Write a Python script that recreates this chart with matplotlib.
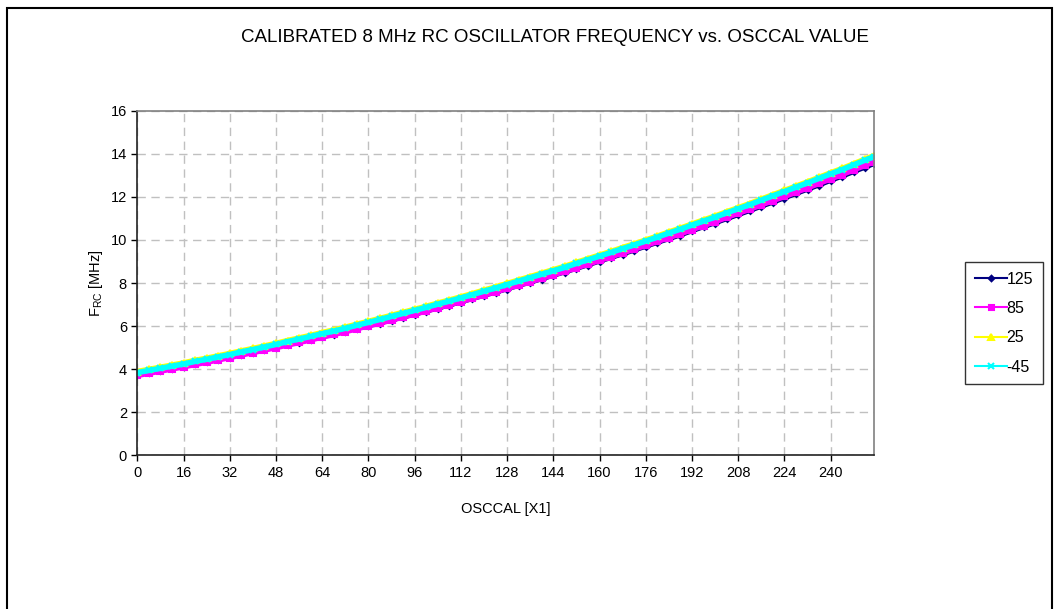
import numpy as np
import matplotlib.pyplot as plt
from matplotlib.patches import Rectangle

plt.rcParams['font.family'] = ['Liberation Sans', 'DejaVu Sans']
plt.rcParams['mathtext.fontset'] = 'custom'
plt.rcParams['mathtext.rm'] = 'Liberation Sans'

# OSCCAL values (read every 4 steps)
osccal = [0, 4, 8, 12, 16, 20, 24, 28, 32, 36, 40, 44, 48, 52, 56, 60,
          64, 68, 72, 76, 80, 84, 88, 92, 96, 100, 104, 108, 112, 116, 120, 124,
          128, 132, 136, 140, 144, 148, 152, 156, 160, 164, 168, 172, 176, 180, 184, 188,
          192, 196, 200, 204, 208, 212, 216, 220, 224, 228, 232, 236, 240, 244, 248, 252, 255]

# frequency in MHz for each temperature
f_125 = [3.77, 3.87, 3.96, 4.06, 4.16, 4.27, 4.37, 4.47, 4.58, 4.70, 4.81, 4.92, 5.04, 5.16, 5.27, 5.39,
         5.52, 5.64, 5.77, 5.90, 6.03, 6.16, 6.30, 6.43, 6.57, 6.71, 6.85, 6.99, 7.14, 7.29, 7.44, 7.59,
         7.74, 7.90, 8.05, 8.21, 8.37, 8.53, 8.69, 8.86, 9.03, 9.20, 9.37, 9.54, 9.72, 9.90, 10.07, 10.25,
         10.44, 10.63, 10.81, 11.00, 11.19, 11.38, 11.58, 11.77, 11.97, 12.17, 12.37, 12.57, 12.78, 12.98, 13.19, 13.40, 13.56]
f_85 = [3.71, 3.81, 3.91, 4.01, 4.11, 4.22, 4.32, 4.43, 4.54, 4.66, 4.77, 4.89, 5.00, 5.12, 5.24, 5.36,
        5.49, 5.61, 5.74, 5.88, 6.01, 6.14, 6.28, 6.42, 6.56, 6.70, 6.85, 6.99, 7.14, 7.29, 7.44, 7.59,
        7.75, 7.90, 8.06, 8.22, 8.38, 8.54, 8.71, 8.88, 9.05, 9.22, 9.40, 9.57, 9.75, 9.93, 10.11, 10.29,
        10.48, 10.67, 10.85, 11.05, 11.24, 11.43, 11.63, 11.83, 12.02, 12.22, 12.42, 12.63, 12.84, 13.04, 13.26, 13.47, 13.64]
f_25 = [3.89, 3.99, 4.09, 4.19, 4.29, 4.41, 4.51, 4.62, 4.73, 4.85, 4.96, 5.08, 5.20, 5.33, 5.45, 5.57,
        5.70, 5.82, 5.95, 6.09, 6.22, 6.36, 6.50, 6.64, 6.78, 6.92, 7.07, 7.21, 7.36, 7.51, 7.67, 7.82,
        7.98, 8.14, 8.30, 8.46, 8.62, 8.78, 8.96, 9.13, 9.30, 9.47, 9.65, 9.82, 10.00, 10.18, 10.37, 10.55,
        10.74, 10.93, 11.11, 11.31, 11.50, 11.69, 11.90, 12.10, 12.30, 12.50, 12.70, 12.91, 13.12, 13.32, 13.54, 13.76, 13.92]
f_m45 = [3.84, 3.94, 4.04, 4.14, 4.24, 4.36, 4.46, 4.57, 4.68, 4.80, 4.91, 5.03, 5.15, 5.28, 5.40, 5.52,
         5.65, 5.77, 5.90, 6.04, 6.17, 6.31, 6.45, 6.59, 6.73, 6.87, 7.02, 7.16, 7.31, 7.46, 7.62, 7.77,
         7.93, 8.09, 8.25, 8.41, 8.57, 8.73, 8.91, 9.08, 9.25, 9.42, 9.60, 9.77, 9.95, 10.13, 10.32, 10.50,
         10.69, 10.88, 11.06, 11.26, 11.45, 11.64, 11.85, 12.05, 12.25, 12.45, 12.65, 12.86, 13.07, 13.27, 13.49, 13.71, 13.87]

labels = ['125', '85', '25', '-45']
colors = ['#000080', '#FF00FF', '#FFFF00', '#00FFFF']
markers = ['D', 's', '^', 'x']
msizes = [3.5, 4.5, 5, 5]

fig = plt.figure(figsize=(10.59, 6.09), dpi=100)
ax = fig.add_axes([0.1297, 0.2524, 0.6956, 0.5657])

for ys, lab, c, m, s in zip([f_125, f_85, f_25, f_m45], labels, colors, markers, msizes):
    ax.plot(osccal, ys, color=c, lw=4, marker=m, ms=s, mew=1.5, label=lab)

ax.set_xlim(0, 255)
ax.set_ylim(0, 16)
ax.set_xticks(np.arange(0, 241, 16))
ax.set_yticks(np.arange(0, 17, 2))
ax.grid(True, color='#c0c0c0', ls=(0, (6, 4)), lw=1)
ax.tick_params(direction='out', length=4, width=1, labelsize=10.5, colors='black')

for s in ['left', 'bottom']:
    ax.spines[s].set_color('#222222')
    ax.spines[s].set_linewidth(1.2)
for s in ['top', 'right']:
    ax.spines[s].set_color('#808080')
    ax.spines[s].set_linewidth(1.2)

ax.set_xlabel('OSCCAL [X1]', fontsize=10.5, labelpad=16)
ax.set_ylabel(r'F$_{\mathrm{RC}}$ [MHz]', fontsize=10.5, labelpad=4)

fig.text(555 / 1059, 1 - 37 / 609, 'CALIBRATED 8 MHz RC OSCILLATOR FREQUENCY vs. OSCCAL VALUE',
         ha='center', va='center', fontsize=13.5)

leg = fig.legend(loc='upper left', bbox_to_anchor=(965 / 1059, 1 - 262 / 609),
                 fontsize=11.5, frameon=True, fancybox=False, handlelength=2.0,
                 handletextpad=0.0, labelspacing=0.9, borderaxespad=0, borderpad=0.6,
                 markerscale=0.8)
leg.get_frame().set_edgecolor('black')
leg.get_frame().set_linewidth(1)
for h in leg.legend_handles:
    h.set_linewidth(1.5)

# outer chart border
fig.patches.append(Rectangle((7 / 1059, -0.05), (1052 - 7) / 1059, 1.05 - 8 / 609,
                             transform=fig.transFigure, fill=False, ec='black', lw=1.5))

fig.savefig('out.png', dpi=100)
